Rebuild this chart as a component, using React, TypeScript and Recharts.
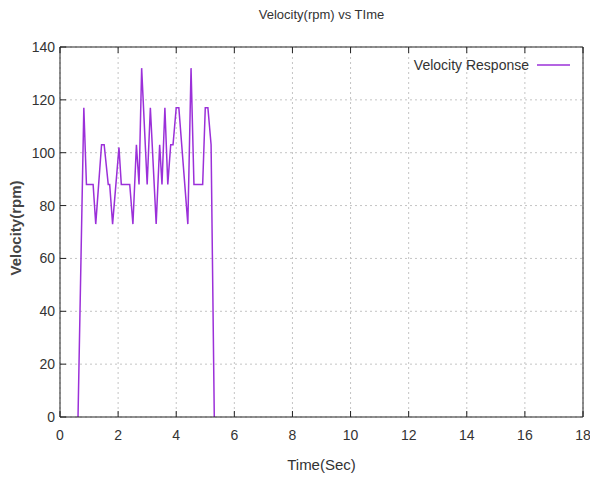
import { CartesianGrid, Line, LineChart, XAxis, YAxis } from 'recharts'

const times = [
  0.62, 0.82, 0.91, 1.14, 1.23, 1.43, 1.52, 1.66, 1.71, 1.81, 2.03, 2.11, 2.4, 2.51, 2.63, 2.72, 2.81, 3.0,
  3.11, 3.31, 3.43, 3.51, 3.61, 3.71, 3.81, 3.89, 4.0, 4.09, 4.4, 4.51, 4.61, 4.91, 5.0, 5.09, 5.2, 5.31,
]
const velocity = [
  0, 117, 88, 88, 73, 103, 103, 88, 88, 73, 102, 88, 88, 73, 103, 88, 132, 88,
  117, 73, 103, 88, 117, 88, 103, 103, 117, 117, 73, 132, 88, 88, 117, 117, 103, 0,
]
const xTicks = [0, 2, 4, 6, 8, 10, 12, 14, 16, 18]
const yTicks = [0, 20, 40, 60, 80, 100, 120, 140]

const seriesName = 'Velocity Response'
const title = 'Velocity(rpm) vs TIme'
const xLabel = 'Time(Sec)'
const yLabel = 'Velocity(rpm)'

const data = times.map((t, i) => ({ t, v: velocity[i] }))

const font = '"Liberation Sans", sans-serif'
const lineColor = '#9b30d9'
const tickStyle = { fontSize: 14, fill: '#333', fontFamily: font }

export default function App() {
  return (
    <div style={{ position: 'absolute', left: 0, top: 0, width: 590, height: 480, background: '#fff', fontFamily: font }}>
      <LineChart width={590} height={480} data={data} margin={{ top: 17, right: 0, bottom: 0, left: 0 }}>
        <CartesianGrid stroke="#c4c4c4" strokeDasharray="2 3" />
        <XAxis
          dataKey="t"
          type="number"
          domain={[0, 18]}
          ticks={xTicks}
          interval={0}
          height={63}
          tickSize={-6}
          tickMargin={19}
          stroke="#222"
          tick={tickStyle}
        />
        <XAxis
          xAxisId="top"
          orientation="top"
          dataKey="t"
          type="number"
          domain={[0, 18]}
          ticks={xTicks}
          interval={0}
          height={30}
          tickSize={-6}
          tickFormatter={() => ''}
          stroke="#222"
        />
        <YAxis
          type="number"
          domain={[0, 140]}
          ticks={yTicks}
          interval={0}
          width={60}
          tickSize={-6}
          tickMargin={11}
          stroke="#222"
          tick={tickStyle}
        />
        <YAxis
          yAxisId="right"
          orientation="right"
          type="number"
          domain={[0, 140]}
          ticks={yTicks}
          interval={0}
          width={7}
          tickSize={-6}
          tickFormatter={() => ''}
          stroke="#222"
        />
        <Line
          type="linear"
          dataKey="v"
          name={seriesName}
          stroke={lineColor}
          strokeWidth={1.5}
          dot={false}
          isAnimationActive={false}
        />
      </LineChart>

      <div style={{ position: 'absolute', left: 60, width: 523, top: 7, textAlign: 'center', fontSize: 13, color: '#333' }}>
        {title}
      </div>
      <div style={{ position: 'absolute', left: 60, width: 523, top: 456, textAlign: 'center', fontSize: 15, color: '#333' }}>
        {xLabel}
      </div>
      <div
        style={{
          position: 'absolute',
          left: 15,
          top: 228,
          transform: 'translate(-50%, -50%) rotate(-90deg)',
          whiteSpace: 'nowrap',
          fontSize: 15,
          fontWeight: 'bold',
          color: '#444',
        }}
      >
        {yLabel}
      </div>
      <div style={{ position: 'absolute', right: 20, top: 57, display: 'flex', alignItems: 'center', fontSize: 14, color: '#333' }}>
        <span>{seriesName}</span>
        <svg width={40} height={10} style={{ marginLeft: 1 }}>
          <line x1={7} y1={5} x2={40} y2={5} stroke={lineColor} strokeWidth={1.5} />
        </svg>
      </div>
    </div>
  )
}
